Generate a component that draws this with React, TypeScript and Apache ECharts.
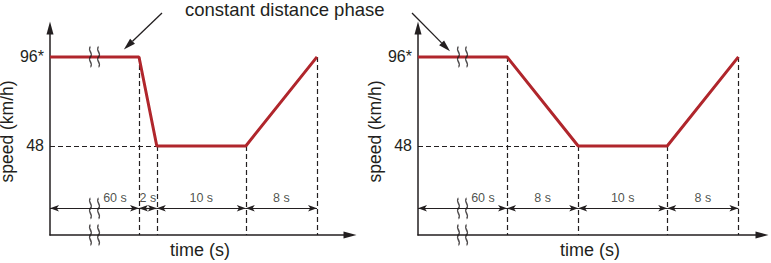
import React, { useEffect, useRef } from 'react';
import * as echarts from 'echarts';

// speed levels shown on the y axis (km/h)
const speedTicks = [48, 96];
// schematic time positions (the 60 s cruise phase is drawn compressed)
const leftTimeX = [0, 10, 12, 22, 30];
const leftSpeed = [96, 96, 48, 48, 96];
const rightTimeX = [0, 10, 18, 28, 36];
const rightSpeed = [96, 96, 48, 48, 96];
const leftPhaseLabels = ['60 s', '2 s', '10 s', '8 s'];
const rightPhaseLabels = ['60 s', '8 s', '10 s', '8 s'];
const leftLabelX = [7.3, 11, 17, 26];
const rightLabelX = [7.3, 14, 23, 32];
const dimY = 14.4;
const labelY = 15.6;
const breakX = 5;
const annotationText = 'constant distance phase';
const annotationTips = [
  [8.3, 100],
  [3.6, 99],
];

const INK = '#231f20';
const RED = '#b0262c';
const FONT = '"Liberation Sans", Arial, Helvetica, sans-serif';
const SQUIGGLE =
  'path://M2,0 C0,3 4,6 2,9 C0,12 4,15 2,18 M7,0 C5,3 9,6 7,9 C5,12 9,15 7,18';

function panelSeries(
  idx: number,
  xs: number[],
  ys: number[],
  labels: string[],
  labelXs: number[]
) {
  const dashed: any[] = [];
  dashed.push([{ coord: [0, 48] }, { coord: [xs[2], 48] }]);
  for (let i = 1; i < xs.length; i++) {
    dashed.push([{ coord: [xs[i], ys[i]] }, { coord: [xs[i], 0] }]);
  }
  const dims: any[] = [];
  for (let i = 0; i < xs.length - 1; i++) {
    dims.push([{ coord: [xs[i], dimY] }, { coord: [xs[i + 1], dimY] }]);
  }
  return [
    {
      type: 'line',
      xAxisIndex: idx,
      yAxisIndex: idx,
      data: xs.map((x, i) => [x, ys[i]]),
      symbol: 'none',
      lineStyle: { color: RED, width: 3 },
      z: 5,
      markLine: {
        silent: true,
        symbol: 'none',
        label: { show: false },
        lineStyle: { color: INK, width: 1.2, type: [5, 3] },
        data: dashed,
      },
    },
    {
      type: 'scatter',
      xAxisIndex: idx,
      yAxisIndex: idx,
      symbolSize: 1,
      itemStyle: { color: 'rgba(0,0,0,0)' },
      data: labels.map((l, i) => ({ name: l, value: [labelXs[i], labelY] })),
      label: {
        show: true,
        position: 'top',
        distance: 1,
        formatter: (p: any) => p.name,
        fontSize: 12.5,
        color: INK,
        fontFamily: FONT,
        textBorderWidth: 0,
      },
      markLine: {
        silent: true,
        symbol: ['arrow', 'arrow'],
        symbolSize: [5, 9],
        label: { show: false },
        lineStyle: { color: INK, width: 1.2, type: 'solid' },
        data: dims,
      },
    },
    {
      type: 'scatter',
      xAxisIndex: idx,
      yAxisIndex: idx,
      symbol: SQUIGGLE,
      symbolSize: [10, 20],
      itemStyle: { color: 'none', borderColor: INK, borderWidth: 1.8 },
      data: [
        [breakX, 96],
        [breakX, dimY],
        [breakX, 0],
      ],
      z: 6,
    },
  ];
}

function axisPair(idx: number, xMax: number, nameGap: number) {
  const x = {
    type: 'value',
    gridIndex: idx,
    min: 0,
    max: xMax,
    name: 'time (s)',
    nameLocation: 'middle',
    nameGap: 6,
    nameTextStyle: { fontSize: 18, color: INK, fontFamily: FONT, verticalAlign: 'top' },
    axisLine: {
      show: true,
      symbol: ['none', 'triangle'],
      symbolSize: [7, 13],
      lineStyle: { color: INK, width: 1.5 },
    },
    axisTick: { show: false },
    axisLabel: { show: false },
    splitLine: { show: false },
  };
  const y = {
    type: 'value',
    gridIndex: idx,
    min: 0,
    max: 111.6,
    interval: 48,
    name: 'speed (km/h)',
    nameLocation: 'middle',
    nameRotate: 90,
    nameGap,
    nameTextStyle: { fontSize: 17.5, color: INK, fontFamily: FONT },
    axisLine: {
      show: true,
      symbol: ['none', 'triangle'],
      symbolSize: [7, 13],
      lineStyle: { color: INK, width: 1.5 },
    },
    axisTick: { show: false },
    axisLabel: {
      show: true,
      margin: 6,
      fontSize: 16,
      color: INK,
      fontFamily: FONT,
      formatter: (v: number) =>
        speedTicks.includes(v) ? (v === 96 ? '96*' : String(v)) : '',
    },
    splitLine: { show: false },
  };
  return { x, y };
}

export default function App() {
  const ref = useRef<HTMLDivElement>(null);
  useEffect(() => {
    if (!ref.current) return;
    const chart = echarts.init(ref.current, undefined, { renderer: 'svg' });
    const a0 = axisPair(0, 300 / 8.9, 24);
    const a1 = axisPair(1, 344 / 8.9, 26);
    chart.setOption({
      animation: false,
      backgroundColor: '#ffffff',
      grid: [
        { left: 50, top: 28, width: 300, height: 207, outerBoundsMode: 'none', containLabel: false },
        { left: 418, top: 28, width: 344, height: 207, outerBoundsMode: 'none', containLabel: false },
      ],
      xAxis: [a0.x, a1.x],
      yAxis: [a0.y, a1.y],
      series: [
        ...panelSeries(0, leftTimeX, leftSpeed, leftPhaseLabels, leftLabelX),
        ...panelSeries(1, rightTimeX, rightSpeed, rightPhaseLabels, rightLabelX),
      ],
    });

    const starts = [
      [162, 13],
      [412, 13],
    ];
    const graphics: any[] = [
      {
        type: 'text',
        left: 185,
        top: 0,
        style: {
          text: annotationText,
          fontSize: 18.5,
          fill: INK,
          fontFamily: FONT,
        },
      },
    ];
    annotationTips.forEach((tip, i) => {
      const p = chart.convertToPixel({ gridIndex: i }, tip) as number[];
      const s = starts[i];
      const dx = p[0] - s[0];
      const dy = p[1] - s[1];
      const len = Math.sqrt(dx * dx + dy * dy);
      const ux = dx / len;
      const uy = dy / len;
      const headLen = 12;
      const halfW = 3.5;
      const bx = p[0] - ux * headLen;
      const by = p[1] - uy * headLen;
      graphics.push({
        type: 'line',
        shape: { x1: s[0], y1: s[1], x2: bx, y2: by },
        style: { stroke: INK, lineWidth: 1.3 },
      });
      graphics.push({
        type: 'polygon',
        shape: {
          points: [
            [p[0], p[1]],
            [bx - uy * halfW, by + ux * halfW],
            [bx + uy * halfW, by - ux * halfW],
          ],
        },
        style: { fill: INK },
      });
    });
    chart.setOption({ graphic: graphics });
    return () => chart.dispose();
  }, []);
  return (
    <div
      ref={ref}
      style={{ position: 'absolute', left: 0, top: 0, width: 771, height: 263 }}
    />
  );
}
